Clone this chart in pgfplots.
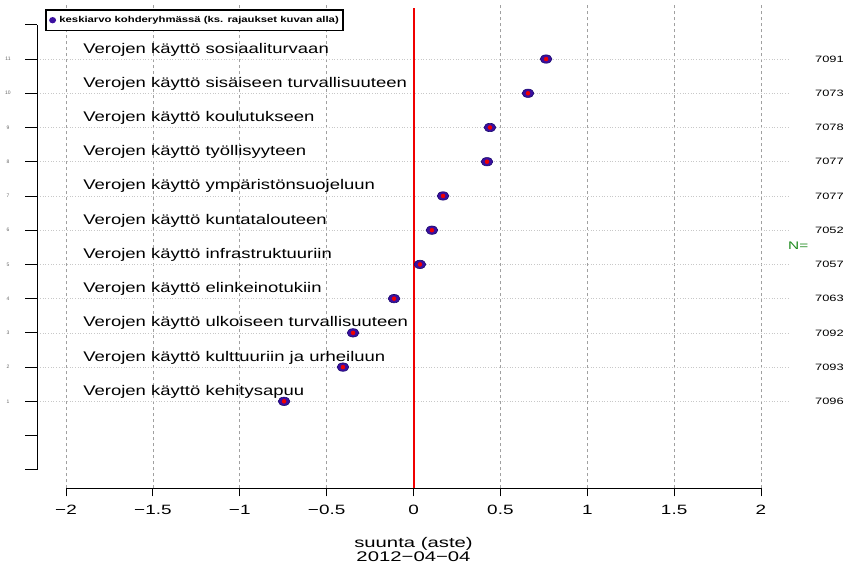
\documentclass[border=0pt]{standalone}
\usepackage{fontspec}
\setmainfont{Liberation Sans}
\usepackage{pgfplots}
\pgfplotsset{compat=1.18}
\definecolor{ptfill}{HTML}{3B0FA0}
\definecolor{ptedge}{HTML}{1A0A6E}
\definecolor{ngreen}{HTML}{1E8A1E}
\definecolor{myred}{RGB}{240,0,0}
\definecolor{gridgray}{HTML}{A0A0A0}
\definecolor{dotgray}{HTML}{C8C8C8}
\begin{document}
\begin{tikzpicture}[x=1pt,y=1pt]
\begin{axis}[
 width=695pt, height=484pt, scale only axis,
 xmin=-2, xmax=2, ymin=-1.54, ymax=12.6,
 enlargelimits=false, clip=false,
 axis x line*=bottom, axis y line*=left,
 y axis line style={draw=none},
 x axis line style={-, line width=0.8pt},
 xtick={-2,-1.5,-1,-0.5,0,0.5,1,1.5,2},
 xticklabels={−2,−1.5,−1,−0.5,0,0.5,1,1.5,2},
 xticklabel style={font=\fontsize{13.5}{16}\selectfont, xscale=1.4, yshift=-5pt},
 tick align=outside, major tick length=8pt,
 xtick style={black, line width=0.8pt},
 ytick=\empty,
 legend style={at={(axis cs:-2.121,12.46)}, anchor=north west, draw=black, line width=1.6pt,
   font=\fontsize{8.5}{10}\selectfont\bfseries, inner xsep=2pt, inner ysep=4.5pt, row sep=0pt,
   legend cell align=left},
 legend image code/.code={\path (0,0) (8pt,0); \fill[ptfill] (4pt,0) ellipse (2.6pt and 2.3pt);},
]
% bounding box of the whole figure
\path (axis cs:-2.380,-3.766) rectangle (axis cs:2.4835,12.725);
% vertical dashed grid (not at zero)
\pgfplotsinvokeforeach{-2,-1.5,-1,-0.5,0.5,1,1.5,2}{
  \draw[gridgray, dashed, line width=0.7pt] (axis cs:#1,-1.54) -- (axis cs:#1,12.6);
}
% horizontal dotted lines
\pgfplotsinvokeforeach{1,...,11}{
  \draw[dotgray, dotted, line width=0.7pt] (axis cs:-2.15,#1) -- (axis cs:2.17,#1);
}
% red zero line
\addplot[draw=myred, line width=2pt, forget plot, mark=none] coordinates {(0,12.49) (0,-1.54)};
% left axis
\draw[line width=0.8pt, black] (axis cs:-2.167,-1) -- (axis cs:-2.167,12);
\pgfplotsinvokeforeach{-1,...,12}{
  \draw[line width=0.8pt, black] (axis cs:-2.236,#1) -- (axis cs:-2.167,#1);
}
\pgfplotsinvokeforeach{1,...,11}{
  \node[font=\fontsize{5}{6}\selectfont, text=black!60] at (axis cs:-2.334,#1) {#1};
}
% points
\addplot[only marks, mark=*, mark size=4.2pt,
  mark options={xscale=1.4, fill=ptfill, draw=ptedge, line width=0.6pt}]
  coordinates {
  (0.763,11) (0.659,10) (0.440,9) (0.423,8) (0.170,7) (0.106,6)
  (0.037,5) (-0.112,4) (-0.348,3) (-0.406,2) (-0.745,1)
};
\addlegendentry{\scalebox{1.33}[1]{keskiarvo kohderyhmässä (ks. rajaukset kuvan alla)}}
\addplot[forget plot, only marks, mark=none, color=myred,
  error bars/.cd, x dir=both, x explicit, error mark=none,
  error bar style={draw=myred, line width=1pt}]
  coordinates {
  (0.763,11) +- (0.012,0) (0.659,10) +- (0.012,0) (0.440,9) +- (0.012,0)
  (0.423,8) +- (0.012,0) (0.170,7) +- (0.012,0) (0.106,6) +- (0.012,0)
  (0.037,5) +- (0.012,0) (-0.112,4) +- (0.012,0) (-0.348,3) +- (0.012,0)
  (-0.406,2) +- (0.012,0) (-0.745,1) +- (0.012,0)
};
% row labels
\begin{scope}[every node/.style={anchor=west, font=\fontsize{14}{17}\selectfont, xscale=1.32, inner sep=0pt}]
\node at (axis cs:-1.902,11.28) {Verojen käyttö sosiaaliturvaan};
\node at (axis cs:-1.902,10.28) {Verojen käyttö sisäiseen turvallisuuteen};
\node at (axis cs:-1.902,9.28) {Verojen käyttö koulutukseen};
\node at (axis cs:-1.902,8.28) {Verojen käyttö työllisyyteen};
\node at (axis cs:-1.902,7.28) {Verojen käyttö ympäristönsuojeluun};
\node at (axis cs:-1.902,6.28) {Verojen käyttö kuntatalouteen};
\node at (axis cs:-1.902,5.28) {Verojen käyttö infrastruktuuriin};
\node at (axis cs:-1.902,4.28) {Verojen käyttö elinkeinotukiin};
\node at (axis cs:-1.902,3.28) {Verojen käyttö ulkoiseen turvallisuuteen};
\node at (axis cs:-1.902,2.28) {Verojen käyttö kulttuuriin ja urheiluun};
\node at (axis cs:-1.902,1.28) {Verojen käyttö kehitysapuu};
\end{scope}
% N values
\begin{scope}[every node/.style={anchor=west, font=\fontsize{9.2}{11}\selectfont, xscale=1.4, inner sep=0pt}]
\node at (axis cs:2.31,11) {7091};
\node at (axis cs:2.31,10) {7073};
\node at (axis cs:2.31,9) {7078};
\node at (axis cs:2.31,8) {7077};
\node at (axis cs:2.31,7) {7077};
\node at (axis cs:2.31,6) {7052};
\node at (axis cs:2.31,5) {7057};
\node at (axis cs:2.31,4) {7063};
\node at (axis cs:2.31,3) {7092};
\node at (axis cs:2.31,2) {7093};
\node at (axis cs:2.31,1) {7096};
\end{scope}
\node[anchor=west, inner sep=0pt, text=ngreen, font=\fontsize{11}{13}\selectfont, xscale=1.4] at (axis cs:2.155,5.56) {N=};
% x axis title
\node[font=\fontsize{14}{14}\selectfont, xscale=1.45, inner sep=0pt] at (axis cs:0,-3.152) {suunta (aste)};
\node[font=\fontsize{14}{14}\selectfont, xscale=1.45, inner sep=0pt] at (axis cs:0,-3.54) {2012−04−04};
\end{axis}
\end{tikzpicture}
\end{document}
